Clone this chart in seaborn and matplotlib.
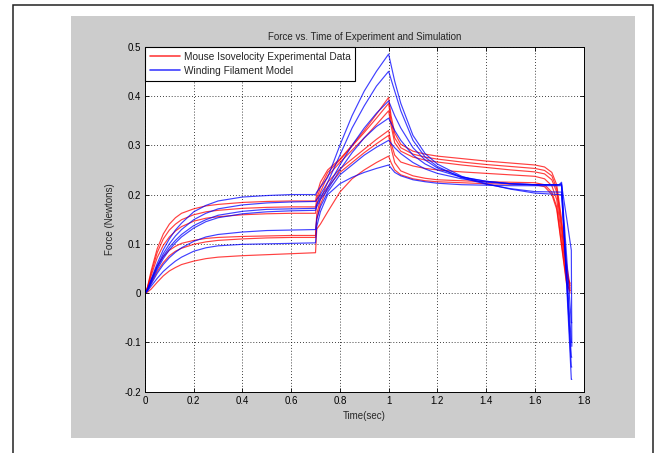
import numpy as np
import pandas as pd
import matplotlib
matplotlib.use("Agg")
import matplotlib.pyplot as plt
import seaborn as sns
from matplotlib.lines import Line2D
from matplotlib.patches import Rectangle

# ---------------- data ----------------
title = "Force vs. Time of Experiment and Simulation"
x_label = "Time(sec)"
y_label = "Force (Newtons)"
series_names = ["Mouse Isovelocity Experimental Data", "Winding Filament Model"]

x_ticks = [0, 0.2, 0.4, 0.6, 0.8, 1.0, 1.2, 1.4, 1.6, 1.8]
x_tick_labels = ["0", "0.2", "0.4", "0.6", "0.8", "1", "1.2", "1.4", "1.6", "1.8"]
y_ticks = [-0.2, -0.1, 0, 0.1, 0.2, 0.3, 0.4, 0.5]
y_tick_labels = ["-0.2", "-0.1", "0", "0.1", "0.2", "0.3", "0.4", "0.5"]

# experimental (red) time samples
t_exp = [0, 0.01, 0.025, 0.05, 0.075, 0.1, 0.125, 0.15, 0.2, 0.25, 0.3, 0.4, 0.5, 0.6, 0.7,
         0.705, 0.72, 0.75, 0.8, 0.85, 0.9, 0.95, 1.0,
         1.01, 1.025, 1.05, 1.1, 1.15, 1.2, 1.3, 1.4, 1.5, 1.6,
         1.64, 1.67, 1.69, 1.71, 1.73, 1.745]

exp_1 = [0, 0.012, 0.045, 0.09, 0.12, 0.14, 0.153, 0.162, 0.171, 0.177, 0.18, 0.184, 0.186, 0.187, 0.187,
         0.2, 0.225, 0.25, 0.272, 0.3, 0.33, 0.363, 0.397,
         0.36, 0.325, 0.302, 0.288, 0.282, 0.278, 0.273, 0.268, 0.264, 0.26,
         0.256, 0.245, 0.22, 0.15, 0.06, 0.015]
exp_2 = [0, 0.011, 0.04, 0.082, 0.11, 0.128, 0.14, 0.149, 0.159, 0.165, 0.168, 0.172, 0.174, 0.175, 0.175,
         0.19, 0.215, 0.245, 0.27, 0.298, 0.326, 0.355, 0.385,
         0.35, 0.315, 0.295, 0.282, 0.276, 0.272, 0.266, 0.261, 0.257, 0.253,
         0.249, 0.238, 0.212, 0.14, 0.05, 0.01]
exp_3 = [0, 0.01, 0.035, 0.072, 0.097, 0.114, 0.126, 0.135, 0.146, 0.152, 0.155, 0.159, 0.161, 0.162, 0.162,
         0.18, 0.205, 0.238, 0.265, 0.29, 0.315, 0.342, 0.37,
         0.34, 0.305, 0.288, 0.276, 0.27, 0.266, 0.26, 0.255, 0.25, 0.246,
         0.242, 0.23, 0.205, 0.13, 0.045, 0.005]
exp_4 = [0, 0.008, 0.027, 0.055, 0.074, 0.087, 0.095, 0.101, 0.107, 0.111, 0.113, 0.115, 0.116, 0.117, 0.117,
         0.16, 0.19, 0.225, 0.252, 0.272, 0.292, 0.312, 0.33,
         0.305, 0.28, 0.266, 0.258, 0.253, 0.25, 0.246, 0.243, 0.24, 0.237,
         0.232, 0.218, 0.19, 0.115, 0.035, 0.02]
exp_5 = [0, 0.006, 0.02, 0.044, 0.062, 0.076, 0.085, 0.091, 0.099, 0.104, 0.107, 0.110, 0.112, 0.113, 0.113,
         0.15, 0.18, 0.215, 0.245, 0.265, 0.285, 0.303, 0.32,
         0.295, 0.265, 0.248, 0.238, 0.233, 0.23, 0.228, 0.226, 0.225, 0.224,
         0.22, 0.205, 0.175, 0.1, 0.025, 0.0]
exp_6 = [0, 0.002, 0.008, 0.022, 0.035, 0.045, 0.052, 0.058, 0.065, 0.07, 0.073, 0.076, 0.078, 0.08, 0.082,
         0.13, 0.14, 0.165, 0.205, 0.232, 0.25, 0.265, 0.278,
         0.265, 0.25, 0.24, 0.232, 0.228, 0.226, 0.224, 0.222, 0.221, 0.22,
         0.216, 0.2, 0.17, 0.095, 0.02, 0.005]

# model (blue) time samples
t_model = [0, 0.01, 0.025, 0.05, 0.075, 0.1, 0.125, 0.15, 0.2, 0.25, 0.3, 0.4, 0.5, 0.6, 0.7,
           0.705, 0.72, 0.75, 0.8, 0.85, 0.9, 0.95, 1.0,
           1.025, 1.05, 1.1, 1.15, 1.2, 1.3, 1.4, 1.5, 1.6, 1.7,
           1.71, 1.73, 1.75, 1.752]

model_1 = [0, 0.008, 0.028, 0.06, 0.088, 0.11, 0.128, 0.142, 0.165, 0.178, 0.187, 0.195, 0.198, 0.2, 0.2,
           0.205, 0.215, 0.235, 0.3, 0.36, 0.41, 0.45, 0.485,
           0.43, 0.385, 0.32, 0.283, 0.262, 0.237, 0.222, 0.211, 0.203, 0.2,
           0.2, 0.05, -0.1, -0.1]
model_2 = [0, 0.007, 0.025, 0.055, 0.08, 0.1, 0.116, 0.129, 0.149, 0.162, 0.171, 0.179, 0.183, 0.185, 0.186,
           0.19, 0.2, 0.225, 0.28, 0.335, 0.38, 0.42, 0.45,
           0.41, 0.37, 0.31, 0.276, 0.257, 0.234, 0.221, 0.212, 0.206, 0.205,
           0.205, 0.04, -0.13, -0.13]
model_3 = [0, 0.007, 0.024, 0.052, 0.075, 0.093, 0.107, 0.119, 0.137, 0.149, 0.158, 0.166, 0.17, 0.171, 0.172,
           0.18, 0.195, 0.215, 0.26, 0.3, 0.335, 0.365, 0.39,
           0.36, 0.335, 0.295, 0.27, 0.254, 0.236, 0.227, 0.222, 0.22, 0.22,
           0.225, 0.025, -0.175, -0.175]
model_4 = [0, 0.006, 0.022, 0.048, 0.07, 0.088, 0.102, 0.114, 0.132, 0.145, 0.153, 0.161, 0.165, 0.167, 0.168,
           0.175, 0.19, 0.21, 0.25, 0.285, 0.315, 0.338, 0.355,
           0.33, 0.31, 0.28, 0.262, 0.25, 0.235, 0.227, 0.222, 0.22, 0.22,
           0.222, 0.035, -0.15, -0.15]
model_5 = [0, 0.005, 0.018, 0.04, 0.058, 0.072, 0.083, 0.092, 0.105, 0.114, 0.119, 0.124, 0.127, 0.128, 0.129,
           0.15, 0.175, 0.205, 0.24, 0.26, 0.28, 0.296, 0.31,
           0.295, 0.283, 0.265, 0.252, 0.243, 0.232, 0.225, 0.222, 0.22, 0.22,
           0.22, 0.155, 0.087, -0.108]
model_6 = [0, 0.004, 0.014, 0.03, 0.044, 0.055, 0.065, 0.073, 0.085, 0.092, 0.096, 0.099, 0.1, 0.101, 0.102,
           0.135, 0.165, 0.2, 0.222, 0.235, 0.245, 0.253, 0.26,
           0.245, 0.238, 0.23, 0.226, 0.223, 0.22, 0.219, 0.218, 0.218, 0.218,
           0.218, 0.08, -0.06, -0.06]

exp_curves = [exp_1, exp_2, exp_3, exp_4, exp_5, exp_6]
model_curves = [model_1, model_2, model_3, model_4, model_5, model_6]

# ---------------- build long table ----------------
rows = []
for i, vals in enumerate(exp_curves):
    for t, v in zip(t_exp, vals):
        rows.append({"time": t, "force": v, "curve": f"e{i}", "source": series_names[0]})
for i, vals in enumerate(model_curves):
    for t, v in zip(t_model, vals):
        rows.append({"time": t, "force": v, "curve": f"m{i}", "source": series_names[1]})
df = pd.DataFrame(rows)

# ---------------- style ----------------
sns.set_style("ticks")
plt.rcParams["font.family"] = ["Liberation Sans", "DejaVu Sans"]

W, H = 655, 453
fig = plt.figure(figsize=(W / 100, H / 100), dpi=100, facecolor="white")

# outer frame and grey figure panel (behind the axes)
fig.patches.append(Rectangle((12.5 / W, -0.05), (653 - 12.5) / W, 1.05 - 5.5 / H,
                             transform=fig.transFigure, facecolor="white",
                             edgecolor="#222222", linewidth=1.1, zorder=-3))
fig.patches.append(Rectangle((71 / W, (H - 438) / H), 564 / W, 422 / H,
                             transform=fig.transFigure, facecolor="#cccccc",
                             edgecolor="none", zorder=-2))

ax = fig.add_axes([145 / W, (H - 391.7) / H, 438.5 / W, 345 / H])
ax.set_zorder(1)
ax.set_facecolor("white")

palette = {series_names[0]: "#ff0000", series_names[1]: "#0000ff"}
sns.lineplot(data=df, x="time", y="force", hue="source", units="curve",
             estimator=None, sort=False, palette=palette, linewidth=0.85,
             alpha=0.75, legend=False, ax=ax)

ax.set_xlim(0, 1.8)
ax.set_ylim(-0.2, 0.5)
ax.set_xticks(x_ticks)
ax.set_xticklabels(x_tick_labels)
ax.set_yticks(y_ticks)
ax.set_yticklabels(y_tick_labels)

ax.grid(True, color="black", linestyle=(0, (1, 2.5)), linewidth=0.6)
ax.set_axisbelow(True)
for s in ax.spines.values():
    s.set_visible(True)
    s.set_color("black")
    s.set_linewidth(0.7)
ax.tick_params(direction="in", top=True, right=True, length=3, width=0.6,
               labelsize=7, pad=3, colors="black")

ax.set_title(title, fontsize=7, pad=5)
ax.set_xlabel(x_label, fontsize=7)
ax.set_ylabel(y_label, fontsize=7)
ax.xaxis.set_label_coords(0.5, -0.056)
ax.yaxis.set_label_coords(-0.068, 0.5)

handles = [Line2D([], [], color="#ff0000", lw=1.2, alpha=0.75),
           Line2D([], [], color="#0000ff", lw=1.2, alpha=0.75)]
leg = ax.legend(handles, series_names, loc="upper left", bbox_to_anchor=(0, 1),
                borderaxespad=0, frameon=True, fancybox=False, edgecolor="black",
                framealpha=1, fontsize=7.3, handlelength=3.0, handletextpad=0.3,
                borderpad=0.5, labelspacing=0.4)
leg.get_frame().set_linewidth(0.8)

fig.savefig("out.png", dpi=100, facecolor="white")
